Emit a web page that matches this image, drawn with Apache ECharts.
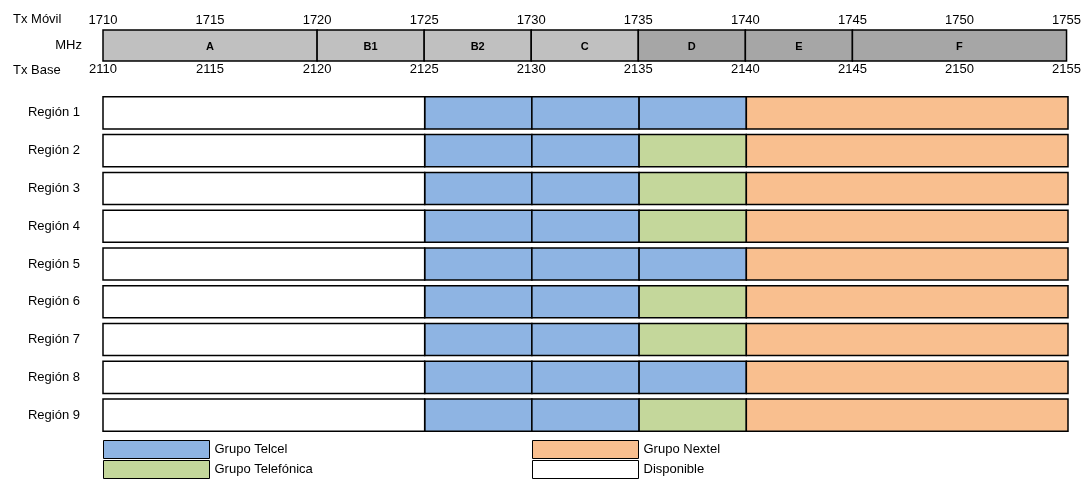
<!DOCTYPE html>
<html><head><meta charset="utf-8">
<script src="https://cdn.jsdelivr.net/npm/echarts@6/dist/echarts.min.js"></script>
<style>html,body{margin:0;padding:0;background:#fff}#c{width:1084px;height:485px}</style>
</head><body><div id="c"></div>
<script>
const bandEdges = [1710, 1720, 1725, 1730, 1735, 1740, 1745, 1755];
const bandLabels = ['A', 'B1', 'B2', 'C', 'D', 'E', 'F'];
const bandShade = ['light', 'light', 'light', 'light', 'dark', 'dark', 'dark'];
const movilTicks = [1710, 1715, 1720, 1725, 1730, 1735, 1740, 1745, 1750, 1755];
const baseTicks = [2110, 2115, 2120, 2125, 2130, 2135, 2140, 2145, 2150, 2155];
const regions = ['Región 1', 'Región 2', 'Región 3', 'Región 4', 'Región 5', 'Región 6', 'Región 7', 'Región 8', 'Región 9'];
const owners = ['Grupo Telcel', 'Grupo Telefónica', 'Grupo Nextel', 'Disponible'];
const ownerColors = ['#8EB4E3', '#C4D79B', '#F9BF8F', '#FFFFFF'];
const blocks = [[1710, 1725], [1725, 1730], [1730, 1735], [1735, 1740], [1740, 1755]];
const TEL = 'Grupo Telcel', TFN = 'Grupo Telefónica', NXT = 'Grupo Nextel', DIS = 'Disponible';
const regionOwners = [
  [DIS, TEL, TEL, TEL, NXT],
  [DIS, TEL, TEL, TFN, NXT],
  [DIS, TEL, TEL, TFN, NXT],
  [DIS, TEL, TEL, TFN, NXT],
  [DIS, TEL, TEL, TEL, NXT],
  [DIS, TEL, TEL, TFN, NXT],
  [DIS, TEL, TEL, TFN, NXT],
  [DIS, TEL, TEL, TEL, NXT],
  [DIS, TEL, TEL, TFN, NXT]
];
const shadeColors = { light: '#C0C0C0', dark: '#A6A6A6' };

const FONT = '"Liberation Sans", Arial, sans-serif';
const chart = echarts.init(document.getElementById('c'));

const headerData = bandLabels.map((l, i) => [bandEdges[i], bandEdges[i + 1], 0, l, bandShade[i]]);

function headerItem(params, api) {
  const p1 = api.coord([api.value(0), 0]);
  const p2 = api.coord([api.value(1), 0]);
  const h = api.size([0, 1])[1];
  const shade = headerData[params.dataIndex][4];
  return {
    type: 'group',
    children: [{
      type: 'rect',
      shape: { x: p1[0], y: p1[1] - h / 2, width: p2[0] - p1[0], height: h },
      style: { fill: shadeColors[shade], stroke: '#000', lineWidth: 1.5 }
    }, {
      type: 'text',
      style: {
        x: (p1[0] + p2[0]) / 2, y: p1[1] + 1, text: headerData[params.dataIndex][3],
        fill: '#000', font: 'bold 11px ' + FONT, align: 'center', verticalAlign: 'middle'
      }
    }]
  };
}

function regionItem(params, api) {
  const r = api.value(2);
  const p1 = api.coord([api.value(0), r]);
  const p2 = api.coord([api.value(1), r]);
  const h = api.size([0, 1])[1] * 0.85;
  return {
    type: 'rect',
    shape: { x: p1[0], y: p1[1] - h / 2, width: p2[0] - p1[0], height: h },
    style: { fill: api.visual('color'), stroke: '#000', lineWidth: 1.5 }
  };
}

const regionSeries = owners.map((o, oi) => {
  const data = [];
  regionOwners.forEach((row, r) => {
    row.forEach((own, b) => {
      if (own === o) data.push([blocks[b][0], blocks[b][1], r]);
    });
  });
  return {
    type: 'custom', name: o, xAxisIndex: 2, yAxisIndex: 1,
    itemStyle: { color: ownerColors[oi] },
    renderItem: regionItem,
    encode: { x: [0, 1], y: 2 },
    data: data
  };
});

const labelStyle = { fontSize: 13, color: '#000', fontFamily: FONT };

chart.setOption({
  animation: false,
  grid: [
    { left: 103, right: 16, top: 30, height: 31 },
    { left: 103, right: 16, top: 94, height: 340 }
  ],
  xAxis: [
    { type: 'value', gridIndex: 0, position: 'top', min: 1710, max: 1755, interval: 5,
      axisLine: { show: false }, axisTick: { show: false }, splitLine: { show: false },
      axisLabel: Object.assign({ margin: 3, showMinLabel: true, showMaxLabel: true,
        formatter: v => String(movilTicks[movilTicks.indexOf(v)]) }, labelStyle) },
    { type: 'value', gridIndex: 0, position: 'bottom', min: 1710, max: 1755, interval: 5,
      axisLine: { show: false }, axisTick: { show: false }, splitLine: { show: false },
      axisLabel: Object.assign({ margin: 2, showMinLabel: true, showMaxLabel: true,
        formatter: v => String(baseTicks[movilTicks.indexOf(v)]) }, labelStyle) },
    { type: 'value', gridIndex: 1, min: 1710, max: 1755, interval: 5, show: false }
  ],
  yAxis: [
    { type: 'category', gridIndex: 0, data: ['MHz'],
      axisLine: { show: false }, axisTick: { show: false },
      axisLabel: Object.assign({ margin: 21 }, labelStyle) },
    { type: 'category', gridIndex: 1, data: regions, inverse: true,
      axisLine: { show: false }, axisTick: { show: false },
      axisLabel: Object.assign({ margin: 23 }, labelStyle) }
  ],
  legend: [
    { left: 103, top: 440, orient: 'vertical', itemWidth: 106, itemHeight: 18, itemGap: 1,
      icon: 'rect', selectedMode: false, padding: 0,
      itemStyle: { borderColor: '#000', borderWidth: 1 },
      textStyle: labelStyle, data: [TEL, TFN] },
    { left: 532, top: 440, orient: 'vertical', itemWidth: 106, itemHeight: 18, itemGap: 1,
      icon: 'rect', selectedMode: false, padding: 0,
      itemStyle: { borderColor: '#000', borderWidth: 1 },
      textStyle: labelStyle, data: [NXT, DIS] }
  ],
  graphic: [
    { type: 'text', left: 13, top: 13, style: { text: 'Tx Móvil', font: '13px ' + FONT, fill: '#000' } },
    { type: 'text', left: 13, top: 64, style: { text: 'Tx Base', font: '13px ' + FONT, fill: '#000' } }
  ],
  series: [{
    type: 'custom', name: 'bands', xAxisIndex: 0, yAxisIndex: 0,
    renderItem: headerItem, encode: { x: [0, 1], y: 2 },
    data: headerData.map(d => [d[0], d[1], d[2]])
  }].concat(regionSeries)
});
</script></body></html>
